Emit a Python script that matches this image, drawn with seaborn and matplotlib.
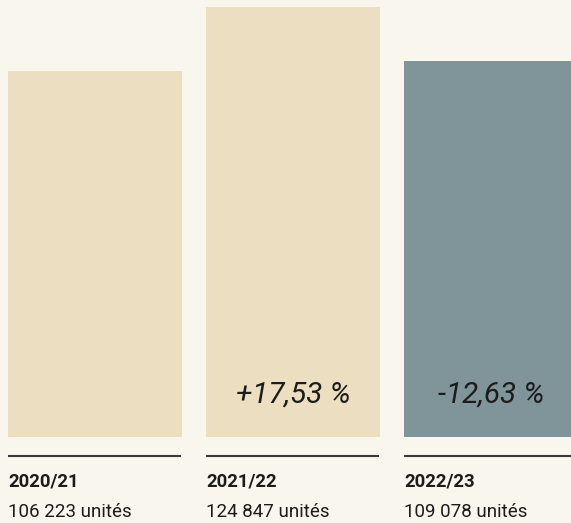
import pandas as pd
import seaborn as sns
import matplotlib.pyplot as plt
import matplotlib.transforms as mtransforms

sns.set_style(style='white')
plt.rcParams['font.family'] = ['Roboto', 'DejaVu Sans']

seasons = ['2020/21', '2021/22', '2022/23']
units = [106223, 124847, 109078]
unit_labels = ['106 223 unités', '124 847 unités', '109 078 unités']
change_labels = ['', '+17,53 %', '-12,63 %']
bar_colors = ['#ecdfc1', '#ecdfc1', '#80959a']

BG = '#f9f6ee'
TEXT = '#1c1c1c'
BAR_W = 174 / 198

df = pd.DataFrame({'season': seasons, 'units': units})

fig = plt.figure(figsize=(5.71, 5.23), dpi=100, facecolor=BG)
ax = fig.add_axes([0, 86 / 523, 1, 437 / 523])
ax.set_facecolor(BG)

sns.barplot(data=df, x='season', y='units', hue='season', palette=bar_colors,
            width=BAR_W, legend=False, saturation=1, linewidth=0, ax=ax)

ax.set_xlim(-95 / 198, 476 / 198)
ax.set_ylim(0, max(units) * 437 / 430)
sns.despine(ax=ax, left=True, bottom=True)
ax.set_xticks([])
ax.set_yticks([])
ax.set_xlabel('')
ax.set_ylabel('')

trans = mtransforms.blended_transform_factory(ax.transData, ax.transAxes)
px = 1 / 437  # one pixel in axes fraction

for i, (season, ulab, clab) in enumerate(zip(seasons, unit_labels, change_labels)):
    left = i - BAR_W / 2
    right = i + BAR_W / 2
    # separator line under each bar
    ax.plot([left, right - 0.005], [-19 * px, -19 * px], transform=trans,
            color='#3a3a3a', lw=1.5, clip_on=False, solid_capstyle='butt')
    ax.text(left, -45 * px, season, transform=trans, ha='left', va='center',
            fontsize=13.3, fontweight='bold', color=TEXT)
    ax.text(left, -75 * px, ulab, transform=trans, ha='left', va='center',
            fontsize=13.5, color=TEXT)
    if clab:
        ax.text(i, 42 * px, clab, transform=trans, ha='center', va='center',
                fontsize=21.3, fontstyle='italic', color=TEXT)

fig.savefig('out.png', dpi=100, facecolor=BG)
